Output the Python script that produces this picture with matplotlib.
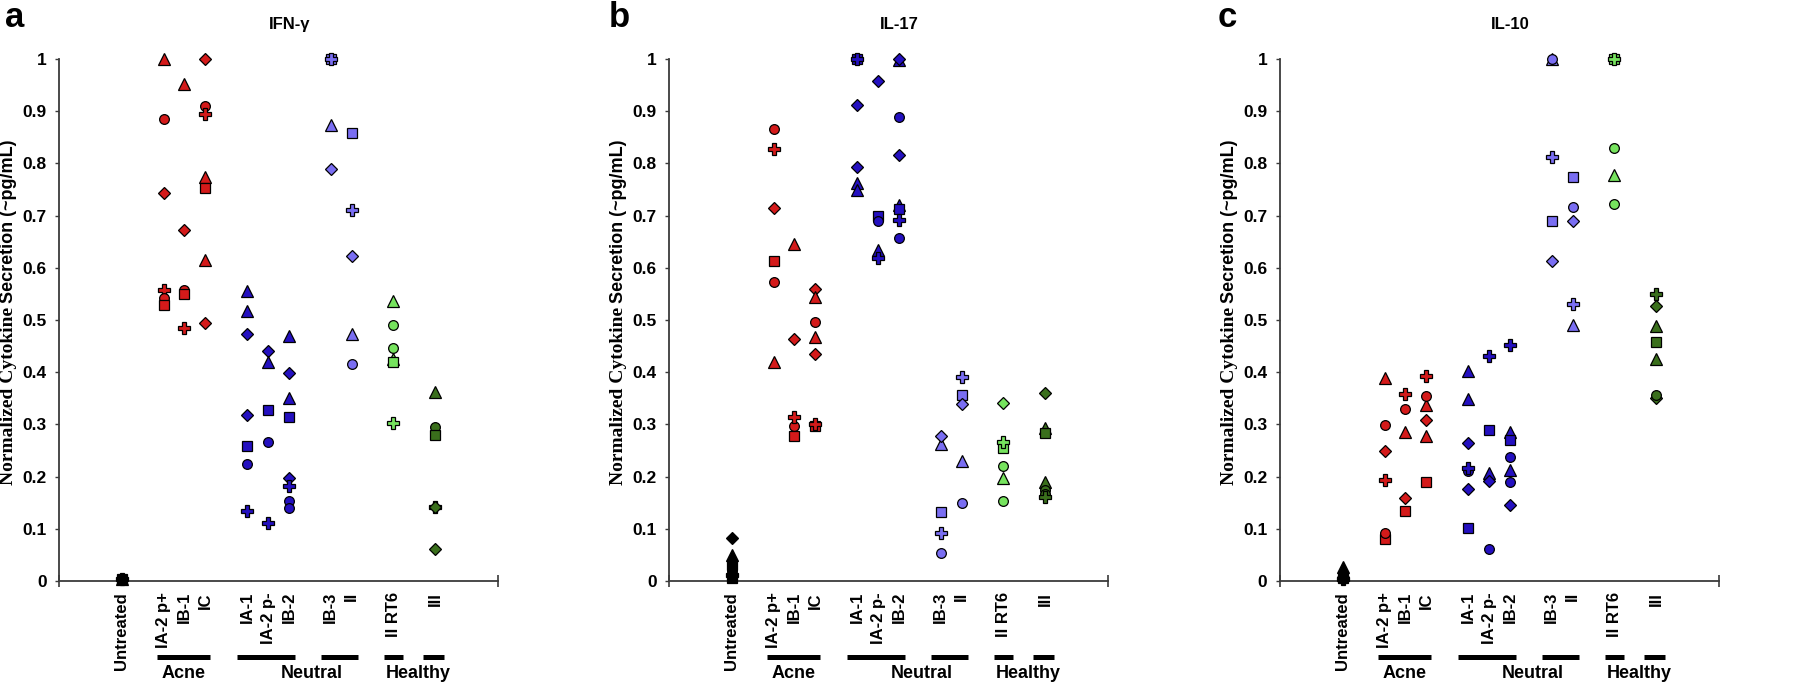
import numpy as np
import matplotlib
matplotlib.use("Agg")
import matplotlib.pyplot as plt
import matplotlib.transforms as mtransforms
from matplotlib import font_manager

# strains on the x axis (Untreated control + P. acnes strains)
categories = ["Untreated", "IA-2 p+", "IB-1", "IC", "IA-1", "IA-2 p-", "IB-2",
              "IB-3", "II", "II RT6", "III"]
y_ticks = [0, 0.1, 0.2, 0.3, 0.4, 0.5, 0.6, 0.7, 0.8, 0.9, 1.0]
y_ticklabels = ["0", "0.1", "0.2", "0.3", "0.4", "0.5", "0.6", "0.7", "0.8", "0.9", "1"]
group_names = ["Acne", "Neutral", "Healthy"]
titles = ["IFN-\u03b3", "IL-17", "IL-10"]
panel_letters = ["a", "b", "c"]

# replicate codes per strain: c=circle, s=square, t=triangle, d=diamond, p=plus
ifng_rep = ["sctdp", "tcdpcs", "tdcsp", "dcptstd", "ttddscp", "dtscp",
            "tdtsdpcc", "tdsp", "spdtc", "tcctsp", "tcspdd"]
ifng_val = [[0.003, 0.003, 0.003, 0.003, 0.003],
            [1.0, 0.886, 0.743, 0.557, 0.543, 0.528],
            [0.952, 0.673, 0.557, 0.549, 0.484],
            [1.0, 0.910, 0.895, 0.773, 0.752, 0.615, 0.495],
            [0.555, 0.518, 0.474, 0.318, 0.259, 0.224, 0.134],
            [0.440, 0.419, 0.328, 0.266, 0.112],
            [0.469, 0.398, 0.350, 0.314, 0.198, 0.182, 0.153, 0.140],
            [0.874, 0.790, 1.0, 1.0],
            [0.859, 0.711, 0.623, 0.473, 0.416],
            [0.536, 0.490, 0.447, 0.425, 0.419, 0.302],
            [0.362, 0.295, 0.280, 0.141, 0.141, 0.061]]

il17_rep = ["dtscps", "cpdsct", "tdscp", "dtctdsp", "ddttsp", "dsctp",
            "tdcdtspc", "tdspc", "psdtc", "dsptcc", "dtstccp"]
il17_val = [[0.083, 0.049, 0.030, 0.020, 0.012, 0.005],
            [0.866, 0.827, 0.715, 0.613, 0.572, 0.419],
            [0.645, 0.4635, 0.277, 0.297, 0.315],
            [0.559, 0.544, 0.497, 0.467, 0.435, 0.297, 0.301],
            [0.911, 0.793, 0.762, 0.750, 1.0, 1.0],
            [0.957, 0.699, 0.689, 0.635, 0.618],
            [0.998, 1.0, 0.889, 0.817, 0.720, 0.712, 0.691, 0.657],
            [0.262, 0.277, 0.133, 0.091, 0.054],
            [0.391, 0.357, 0.339, 0.230, 0.149],
            [0.341, 0.254, 0.267, 0.198, 0.220, 0.153],
            [0.361, 0.294, 0.283, 0.190, 0.174, 0.166, 0.160]]

il10_rep = ["tcdsp", "tcdpsc", "pctds", "ptcdts", "ttdcpds", "pstdc",
            "ptsctcd", "tcpsd", "scdpt", "spctc", "pdtstdc"]
il10_val = [[0.027, 0.014, 0.008, 0.005, 0.004],
            [0.389, 0.299, 0.250, 0.193, 0.080, 0.091],
            [0.359, 0.329, 0.286, 0.159, 0.134],
            [0.392, 0.337, 0.355, 0.309, 0.277, 0.190],
            [0.403, 0.348, 0.265, 0.211, 0.216, 0.177, 0.102],
            [0.431, 0.289, 0.206, 0.192, 0.062],
            [0.453, 0.285, 0.271, 0.238, 0.213, 0.189, 0.145],
            [1.0, 1.0, 0.813, 0.690, 0.613],
            [0.774, 0.717, 0.689, 0.530, 0.490],
            [1.0, 1.0, 0.829, 0.778, 0.723],
            [0.549, 0.527, 0.489, 0.457, 0.426, 0.350, 0.357]]

# layout / style
cat_pos = [3, 5, 6, 7, 9, 10, 11, 13, 14, 16, 18]
cat_color = ["#000000", "#d41a1a", "#d41a1a", "#d41a1a", "#2410c0", "#2410c0", "#2410c0",
             "#7a6ef2", "#7a6ef2", "#76e35e", "#3a6f1c"]
rep_marker = {"c": ("o", 7.0), "s": ("s", 6.6), "t": ("^", 8.0), "d": ("D", 6.2), "p": ("P", 8.0)}
underlines = [(4.69, 7.22), (8.52, 11.29), (12.54, 14.31), (15.55, 16.46), (17.42, 18.42)]
group_x = [5.98, 12.1, 17.18]

names = {f.name for f in font_manager.fontManager.ttflist}
narrow = "Liberation Sans Narrow" if "Liberation Sans Narrow" in names else "Liberation Sans"
sans = ["Liberation Sans", "DejaVu Sans"]
serif = ["Liberation Serif", "DejaVu Serif"]
plt.rcParams["font.family"] = sans

fig = plt.figure(figsize=(18, 6.9), dpi=100)
fig.patch.set_facecolor("white")
lefts = [59 / 1800, 669 / 1800, 1280 / 1800]
axes = [fig.add_axes([l, 109 / 690, 439 / 1800, 522 / 690]) for l in lefts]

panels = [(ifng_rep, ifng_val), (il17_rep, il17_val), (il10_rep, il10_val)]
for k, ax in enumerate(axes):
    reps, vals = panels[k]
    z = 3
    for i, cat in enumerate(categories):
        for code, v in zip(reps[i], vals[i]):
            m, ms = rep_marker[code]
            ax.plot(cat_pos[i], v, marker=m, ms=ms, mfc=cat_color[i], mec="black",
                    mew=0.9, ls="none", clip_on=False, zorder=z)
            z += 0.01

    ax.set_xlim(0, 21)
    ax.set_ylim(0, 1)
    for s in ["top", "right"]:
        ax.spines[s].set_visible(False)
    for s in ["left", "bottom"]:
        ax.spines[s].set_color("#3a3a3a")
        ax.spines[s].set_linewidth(1.3)

    ax.set_yticks(y_ticks)
    ax.set_yticklabels(y_ticklabels, fontsize=12.5, fontweight="bold", family=[narrow, "DejaVu Sans"])
    ax.tick_params(axis="y", direction="out", length=3, width=1, pad=6, colors="#3a3a3a",
                   labelcolor="black")

    ax.set_xticks(cat_pos)
    ax.set_xticklabels(categories, rotation=90, fontsize=12, fontweight="bold", va="top")
    ax.tick_params(axis="x", which="major", length=0, pad=8)
    ax.set_xticks([0, 21], minor=True)
    ax.tick_params(axis="x", which="minor", direction="inout", length=9, width=1.2,
                   colors="#3a3a3a")

    trans = mtransforms.blended_transform_factory(ax.transData, ax.transAxes)
    for x0, x1 in underlines:
        ax.plot([x0, x1], [-0.1456, -0.1456], color="black", lw=3.6, solid_capstyle="butt",
                transform=trans, clip_on=False)
    for name, gx in zip(group_names, group_x):
        ax.text(gx, -0.178, name, transform=trans, ha="center", va="center",
                fontsize=13, fontweight="bold", family=[narrow, "DejaVu Sans"])

    ax.text(0.525, 1.067, titles[k], transform=ax.transAxes, ha="center", va="center",
            fontsize=12, fontweight="bold", family=[narrow, "DejaVu Sans"])

    # y label: serif first half, sans second half
    t1 = ax.text(-0.116, 0.183, "Normalized Cytokine", transform=ax.transAxes, rotation=90,
                 ha="center", va="bottom", fontsize=14, fontweight="bold", family=serif)
    fig.canvas.draw()
    bb = t1.get_window_extent(fig.canvas.get_renderer())
    y2 = ax.transAxes.inverted().transform((0, bb.y1 + 4))[1]
    ax.text(-0.116, y2, "Secretion (~pg/mL)", transform=ax.transAxes, rotation=90,
            ha="center", va="bottom", fontsize=13, fontweight="bold", family=sans)

for letter, lx in zip(panel_letters, [5, 609, 1218]):
    fig.text(lx / 1800, 1 - 27 / 690, letter, ha="left", va="baseline", fontsize=25,
             fontweight="bold", family=sans)

fig.savefig("out.png", dpi=100, facecolor="white")
